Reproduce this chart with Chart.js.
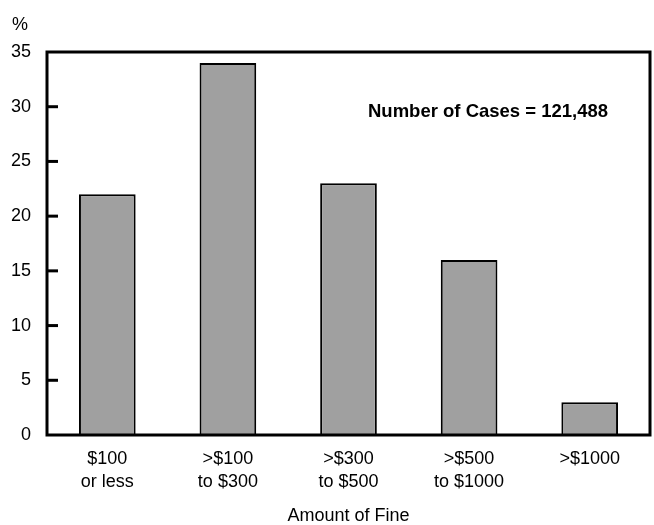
<!DOCTYPE html>
<html>
<head>
<meta charset="utf-8">
<script src="https://cdn.jsdelivr.net/npm/chart.js@4/dist/chart.umd.min.js"></script>
<style>
html,body{margin:0;padding:0;background:#fff;}
#wrap{width:654px;height:525px;position:relative;}
</style>
</head>
<body>
<div id="wrap"><canvas id="c" width="654" height="525"></canvas></div>
<script>
const categories = [["$100","or less"],[">$100","to $300"],[">$300","to $500"],[">$500","to $1000"],[">$1000"]];
const percentages = [22, 34, 23, 16, 3];
const yTicks = [0, 5, 10, 15, 20, 25, 30, 35];
const yUnitLabel = "%";
const xAxisTitle = "Amount of Fine";
const noteText = "Number of Cases = 121,488";

const FONT = "'Liberation Sans', Arial, sans-serif";

const framePlugin = {
  id: 'frame',
  afterDraw(chart) {
    const ctx = chart.ctx;
    const a = chart.chartArea;
    const y = chart.scales.y;
    ctx.save();
    ctx.strokeStyle = '#000';
    ctx.lineWidth = 3;
    ctx.strokeRect(a.left, a.top, a.right - a.left, a.bottom - a.top);
    yTicks.forEach(v => {
      if (v === yTicks[0] || v === yTicks[yTicks.length - 1]) return;
      const py = y.getPixelForValue(v);
      ctx.beginPath();
      ctx.moveTo(a.left, py);
      ctx.lineTo(a.left + 11, py);
      ctx.stroke();
    });
    ctx.fillStyle = '#000';
    ctx.font = "18px " + FONT;
    ctx.textAlign = 'left';
    ctx.textBaseline = 'middle';
    ctx.fillText(yUnitLabel, 12, 25);
    ctx.font = "bold 18.5px " + FONT;
    ctx.fillText(noteText, 368, 112);
    ctx.restore();
  }
};

new Chart(document.getElementById('c'), {
  type: 'bar',
  data: {
    labels: categories,
    datasets: [{
      data: percentages,
      backgroundColor: '#a0a0a0',
      borderColor: '#000',
      borderWidth: 2,
      barPercentage: 0.47,
      categoryPercentage: 1.0
    }]
  },
  options: {
    responsive: false,
    animation: false,
    devicePixelRatio: 1,
    layout: { padding: { left: 0, right: 4, top: 52, bottom: 0 } },
    plugins: { legend: { display: false }, tooltip: { enabled: false }, title: { display: false } },
    scales: {
      x: {
        grid: { display: false, drawTicks: false },
        border: { display: false },
        ticks: { color: '#000', font: { family: FONT, size: 18, lineHeight: 1.3 }, padding: 12, maxRotation: 0, autoSkip: false },
        title: { display: true, text: xAxisTitle, color: '#000', font: { family: FONT, size: 18, lineHeight: 1.0 }, padding: { top: 4, bottom: 0 } },
        afterFit(s) { s.height = 90; }
      },
      y: {
        min: 0, max: 35,
        grid: { display: false, drawTicks: false },
        border: { display: false },
        afterBuildTicks(s) { s.ticks = yTicks.map(v => ({ value: v })); },
        ticks: { color: '#000', font: { family: FONT, size: 18 }, padding: 16 },
        afterFit(s) { s.width = 47; }
      }
    }
  },
  plugins: [framePlugin]
});
</script>
</body>
</html>
